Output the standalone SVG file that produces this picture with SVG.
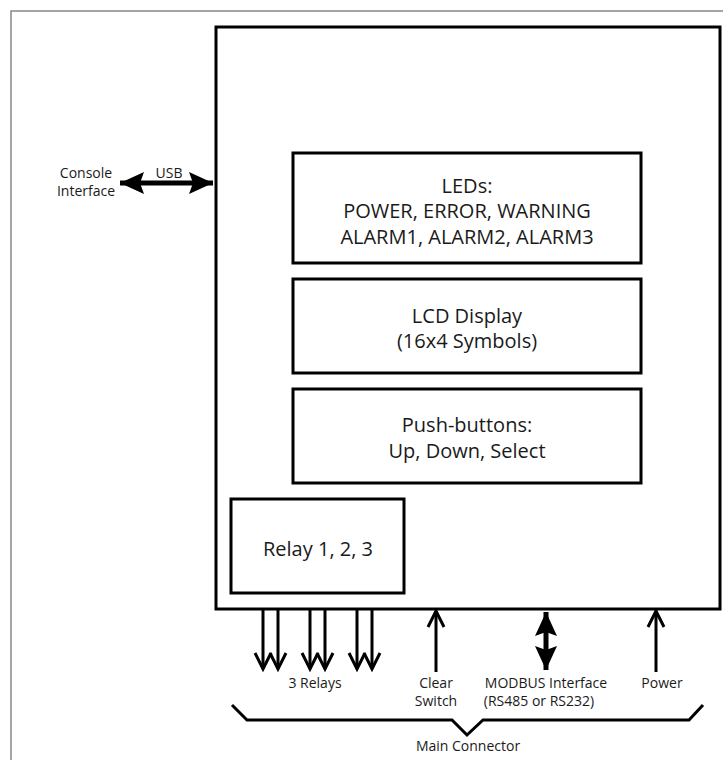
<svg xmlns="http://www.w3.org/2000/svg" width="723" height="760" viewBox="0 0 723 760">
<style>
.box{fill:#fff;stroke:#000;stroke-width:3}
.t{font-family:"Open Sans","Noto Sans",sans-serif;font-size:20px;fill:#1a1a1a;text-anchor:middle}
.s{font-family:"Open Sans","Noto Sans",sans-serif;font-size:14px;fill:#1a1a1a;text-anchor:middle}
.ln{stroke:#000;stroke-width:3;fill:none}
.thick{stroke:#000;stroke-width:5;fill:none}
</style>
<defs>
<marker id="open" markerWidth="20" markerHeight="20" viewBox="0 0 20 20" refX="17" refY="10" orient="auto" markerUnits="userSpaceOnUse">
<path d="M1,2 L17,10 L1,18" fill="none" stroke="#000" stroke-width="3"/>
</marker>
<marker id="fill" markerWidth="26" markerHeight="26" viewBox="0 0 26 26" refX="24" refY="13" orient="auto" markerUnits="userSpaceOnUse">
<path d="M0,2 L24,13 L0,24 L4,13 Z" fill="#000"/>
</marker>
<marker id="fillS" markerWidth="26" markerHeight="26" viewBox="0 0 26 26" refX="2" refY="13" orient="auto" markerUnits="userSpaceOnUse">
<path d="M26,2 L2,13 L26,24 L22,13 Z" fill="#000"/>
</marker>
</defs>
<rect x="0" y="0" width="723" height="760" fill="#fff"/>
<path d="M11,760 V11 H723" fill="none" stroke="#888" stroke-width="1.5"/>
<g id="main"><rect class="box" x="216" y="27" width="504" height="582"/></g>
<g id="leds"><rect class="box" x="293" y="153" width="348" height="110"/>
<text class="t" x="467" y="193">LEDs:</text>
<text class="t" x="467" y="218">POWER, ERROR, WARNING</text>
<text class="t" x="467" y="244">ALARM1, ALARM2, ALARM3</text></g>
<g id="lcd"><rect class="box" x="293" y="279" width="348" height="94"/>
<text class="t" x="467" y="323">LCD Display</text>
<text class="t" x="467" y="348">(16x4 Symbols)</text></g>
<g id="buttons"><rect class="box" x="293" y="389" width="348" height="94"/>
<text class="t" x="467" y="432">Push-buttons:</text>
<text class="t" x="467" y="458">Up, Down, Select</text></g>
<g id="relay"><rect class="box" x="231" y="499" width="173" height="94"/>
<text class="t" x="318" y="556">Relay 1, 2, 3</text></g>
<g id="connectors">
<line class="thick" x1="120" y1="183" x2="213" y2="183" marker-start="url(#fillS)" marker-end="url(#fill)"/>
<line class="ln" x1="263" y1="610" x2="263" y2="669" marker-end="url(#open)"/>
<line class="ln" x1="278" y1="610" x2="278" y2="669" marker-end="url(#open)"/>
<line class="ln" x1="310" y1="610" x2="310" y2="669" marker-end="url(#open)"/>
<line class="ln" x1="325" y1="610" x2="325" y2="669" marker-end="url(#open)"/>
<line class="ln" x1="357" y1="610" x2="357" y2="669" marker-end="url(#open)"/>
<line class="ln" x1="372" y1="610" x2="372" y2="669" marker-end="url(#open)"/>
<line class="ln" x1="436" y1="672" x2="436" y2="611" marker-end="url(#open)"/>
<line class="ln" x1="656" y1="672" x2="656" y2="611" marker-end="url(#open)"/>
<line class="thick" x1="546" y1="612" x2="546" y2="670" stroke-width="6" marker-start="url(#fillS)" marker-end="url(#fill)"/>
<path class="ln" d="M232,705 L247,720 H452 L467,735 L483,720 H689 L703,705"/>
</g>
<g id="labels">
<text class="s" x="86" y="178">Console</text>
<text class="s" x="86" y="196">Interface</text>
<text class="s" x="169" y="178">USB</text>
<text class="s" x="315" y="688">3 Relays</text>
<text class="s" x="436" y="688">Clear</text>
<text class="s" x="436" y="706">Switch</text>
<text class="s" x="546" y="688">MODBUS Interface</text>
<text class="s" x="539" y="706">(RS485 or RS232)</text>
<text class="s" x="662" y="688">Power</text>
<text class="s" x="468" y="751">Main Connector</text>
</g>
</svg>
